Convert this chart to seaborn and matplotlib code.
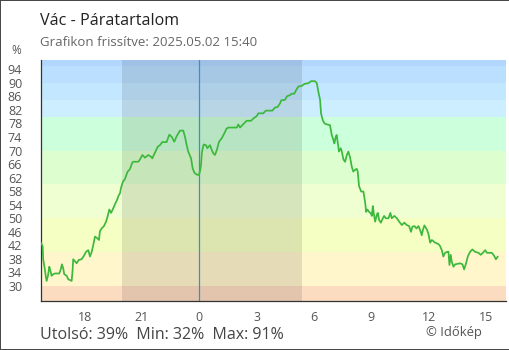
import matplotlib
matplotlib.use("Agg")
import matplotlib.pyplot as plt
from matplotlib.patches import Rectangle
import seaborn as sns
import pandas as pd

# ---------------- data (hours relative to midnight 2025-05-02) ----------------
hours_prev = [-8.30, -8.20, -8.17, -8.09, -8.03, -7.99, -7.92, -7.85, -7.80, -7.73,
              -7.64, -7.55, -7.33, -7.26, -7.19, -7.12, -7.07, -6.94, -6.86, -6.68,
              -6.63, -6.60, -6.52, -6.42, -6.31, -6.16, -6.04, -5.93, -5.81, -5.72,
              -5.63, -5.55, -5.46, -5.34, -5.25, -5.20, -5.11, -4.99, -4.88, -4.80,
              -4.71, -4.62, -4.53, -4.41, -4.29, -4.24, -4.15, -4.10, -4.00, -3.90,
              -3.75, -3.63, -3.51, -3.46, -3.19, -3.10, -2.98, -2.84, -2.67, -2.53,
              -2.46, -2.32, -2.18, -2.06, -1.94, -1.71, -1.57, -1.45, -1.31, -1.18,
              -1.01, -0.84, -0.75, -0.66, -0.58, -0.43, -0.35, -0.26, -0.14, -0.02]
hum_prev = [42.8, 41.8, 37.9, 35.2, 32.7, 31.5, 33.0, 35.7, 34.7, 33.0,
            33.5, 33.7, 33.7, 34.7, 36.4, 35.2, 33.5, 33.0, 32.0, 31.5,
            34.7, 37.9, 37.4, 36.7, 37.7, 37.9, 38.9, 40.1, 40.6, 38.7,
            40.1, 42.1, 44.6, 44.1, 43.6, 46.2, 47.0, 47.7, 49.0, 50.5,
            52.6, 51.6, 52.6, 54.2, 55.6, 56.5, 57.4, 58.9, 60.8, 61.5,
            63.8, 64.5, 66.4, 66.7, 66.7, 67.4, 68.7, 67.9, 68.7, 68.2,
            67.7, 69.4, 71.1, 71.6, 72.5, 72.5, 74.7, 74.1, 72.6, 74.3,
            75.9, 75.9, 74.1, 71.6, 69.7, 67.7, 64.8, 63.5, 62.9, 62.8]

hours_day = [0.04, 0.09, 0.13, 0.18, 0.23, 0.35, 0.42, 0.56, 0.65, 0.73,
             0.82, 0.93, 1.03, 1.17, 1.31, 1.43, 1.52, 1.96, 2.04, 2.13,
             2.30, 2.48, 2.71, 2.83, 3.01, 3.09, 3.35, 3.48, 3.82, 3.96,
             4.10, 4.23, 4.28, 4.49, 4.58, 4.75, 4.84, 4.97, 5.05, 5.18,
             5.36, 5.50, 5.71, 5.85, 6.06, 6.15, 6.23, 6.32, 6.37, 6.46,
             6.54, 6.63, 6.84, 6.93, 7.02, 7.07, 7.14, 7.19, 7.25, 7.31,
             7.40, 7.46, 7.54, 7.63, 7.72, 7.80, 7.89, 7.98, 8.06, 8.15,
             8.24, 8.29, 8.36, 8.47, 8.59, 8.68, 8.73, 8.80, 8.88, 8.97,
             9.03, 9.08, 9.13, 9.20, 9.29, 9.34, 9.41, 9.50, 9.58, 9.67,
             9.76, 9.90, 10.00, 10.07, 10.21, 10.34, 10.46, 10.60, 10.73, 10.86,
             10.98, 11.08, 11.15, 11.26, 11.36, 11.47, 11.57, 11.64, 11.70, 11.78,
             11.91, 11.99, 12.08, 12.17, 12.34, 12.51, 12.60, 12.69, 12.77, 12.86,
             12.98, 13.04, 13.09, 13.16, 13.21, 13.30, 13.39, 13.65, 13.77, 13.86,
             13.96, 14.05, 14.17, 14.29, 14.43, 14.61, 14.73, 14.84, 14.96, 15.05,
             15.31, 15.43, 15.52, 15.62]
hum_day = [64.0, 65.7, 69.2, 70.7, 71.8, 71.6, 70.7, 71.6, 70.2, 69.2,
           68.7, 70.4, 72.6, 73.6, 75.1, 76.5, 76.8, 76.8, 77.7, 76.8,
           77.8, 78.8, 78.8, 79.5, 80.2, 81.0, 81.0, 81.8, 81.8, 82.7,
           82.9, 84.0, 84.8, 85.0, 86.0, 86.4, 86.8, 86.8, 87.7, 88.9,
           89.1, 89.7, 89.9, 90.5, 90.5, 89.9, 87.4, 85.0, 81.0, 79.0,
           78.1, 77.8, 77.5, 74.6, 73.1, 72.1, 74.1, 74.6, 72.1, 69.7,
           70.7, 69.7, 67.4, 66.7, 68.7, 69.7, 68.0, 65.2, 63.8, 64.3,
           64.6, 63.8, 59.5, 57.9, 57.9, 54.6, 51.9, 52.6, 51.9, 51.5,
           50.7, 53.6, 51.5, 49.0, 51.0, 51.6, 49.5, 48.7, 49.7, 50.7,
           50.0, 50.0, 51.6, 50.0, 50.7, 50.0, 49.0, 48.0, 48.7, 48.0,
           47.7, 46.0, 47.5, 47.7, 47.0, 47.7, 46.3, 45.0, 46.5, 47.9,
           46.7, 45.4, 42.8, 43.6, 42.8, 42.4, 41.8, 40.6, 38.7, 39.8,
           40.1, 40.1, 36.2, 39.2, 37.2, 35.7, 36.4, 36.7, 36.4, 34.9,
           36.7, 38.7, 40.1, 40.8, 40.1, 39.8, 39.2, 39.8, 40.6, 39.8,
           39.8, 38.9, 37.9, 38.7]

ytick_values = list(range(30, 95, 4))
xtick_hours = [-6, -3, 0, 3, 6, 9, 12, 15]
xtick_labels = ["18", "21", "0", "3", "6", "9", "12", "15"]
sunset_h, sunrise_h = -4.05, 5.38

title_text = "Vác - Páratartalom"
subtitle_text = "Grafikon frissítve: 2025.05.02 15:40"
stats_text = "Utolsó: 39%  Min: 32%  Max: 91%"
credit_text = "© Időkép"

# background humidity bands
band_edges = [20, 30, 40, 50, 60, 70, 80, 85, 90, 95, 100]
band_colors = ["#fcdcc0", "#fff6cc", "#f5ffc4", "#efffd2", "#ddffcf",
               "#ccffdb", "#cceeff", "#c2e7ff", "#bbdfff", "#b2d7ff"]

df = pd.DataFrame({"hour": hours_prev + hours_day, "hum": hum_prev + hum_day})

# ---------------- plot ----------------
sns.set_theme(style="white")
plt.rcParams["font.family"] = ["Open Sans", "DejaVu Sans"]

W, H = 510, 350
fig = plt.figure(figsize=(W / 100, H / 100), dpi=100)
L, R, T, B = 40.7, 506, 60, 300.7
ax = fig.add_axes([L / W, 1 - B / H, (R - L) / W, (B - T) / H])

for lo, hi, c in zip(band_edges[:-1], band_edges[1:], band_colors):
    ax.axhspan(lo, hi, color=c, lw=0, zorder=0)
ax.axvspan(sunset_h, sunrise_h, color="black", alpha=0.1, lw=0, zorder=1)
ax.axvline(0, color="#3a8fd0", lw=0.9, zorder=2)

sns.lineplot(data=df, x="hour", y="hum", color="#3cb83c", lw=1.25, ax=ax, zorder=3)

ax.set_xlim(-8.30, 16.05)
ax.set_ylim(25.66, 96.75)
ax.set_yticks(ytick_values)
ax.set_xticks(xtick_hours)
ax.set_xticklabels(xtick_labels)
ax.set_xlabel("")
ax.set_ylabel("")
ax.grid(False)
for s in ["top", "right"]:
    ax.spines[s].set_visible(False)
for s in ["left", "bottom"]:
    ax.spines[s].set_color("#333333")
    ax.spines[s].set_linewidth(0.9)
ax.tick_params(direction="inout", length=8.6, width=0.8, color="#333333",
               labelcolor="#555555", labelsize=9)
ax.tick_params(axis="y", pad=9.0)
ax.tick_params(axis="x", pad=3.0)

def fx(x):
    return x / W

def fy(y):
    return 1 - y / H

fig.text(fx(40), fy(25), title_text, fontsize=11.6, color="#222222", va="baseline", ha="left")
fig.text(fx(40), fy(45.7), subtitle_text, fontsize=9.5, color="#666666", va="baseline", ha="left")
fig.text(fx(16.7), fy(51), "%", fontsize=8.5, color="#555555", va="center", ha="center")
fig.text(fx(40.5), fy(339.3), stats_text, fontsize=11.5, color="#444444", va="baseline", ha="left")
fig.text(fx(482), fy(336), credit_text, fontsize=9.4, color="#555555", va="baseline", ha="right")

fig.add_artist(Rectangle((0, 0), 1, 1, transform=fig.transFigure, fill=False,
                         edgecolor="#444444", lw=1.4))

fig.savefig("out.png", dpi=100)
